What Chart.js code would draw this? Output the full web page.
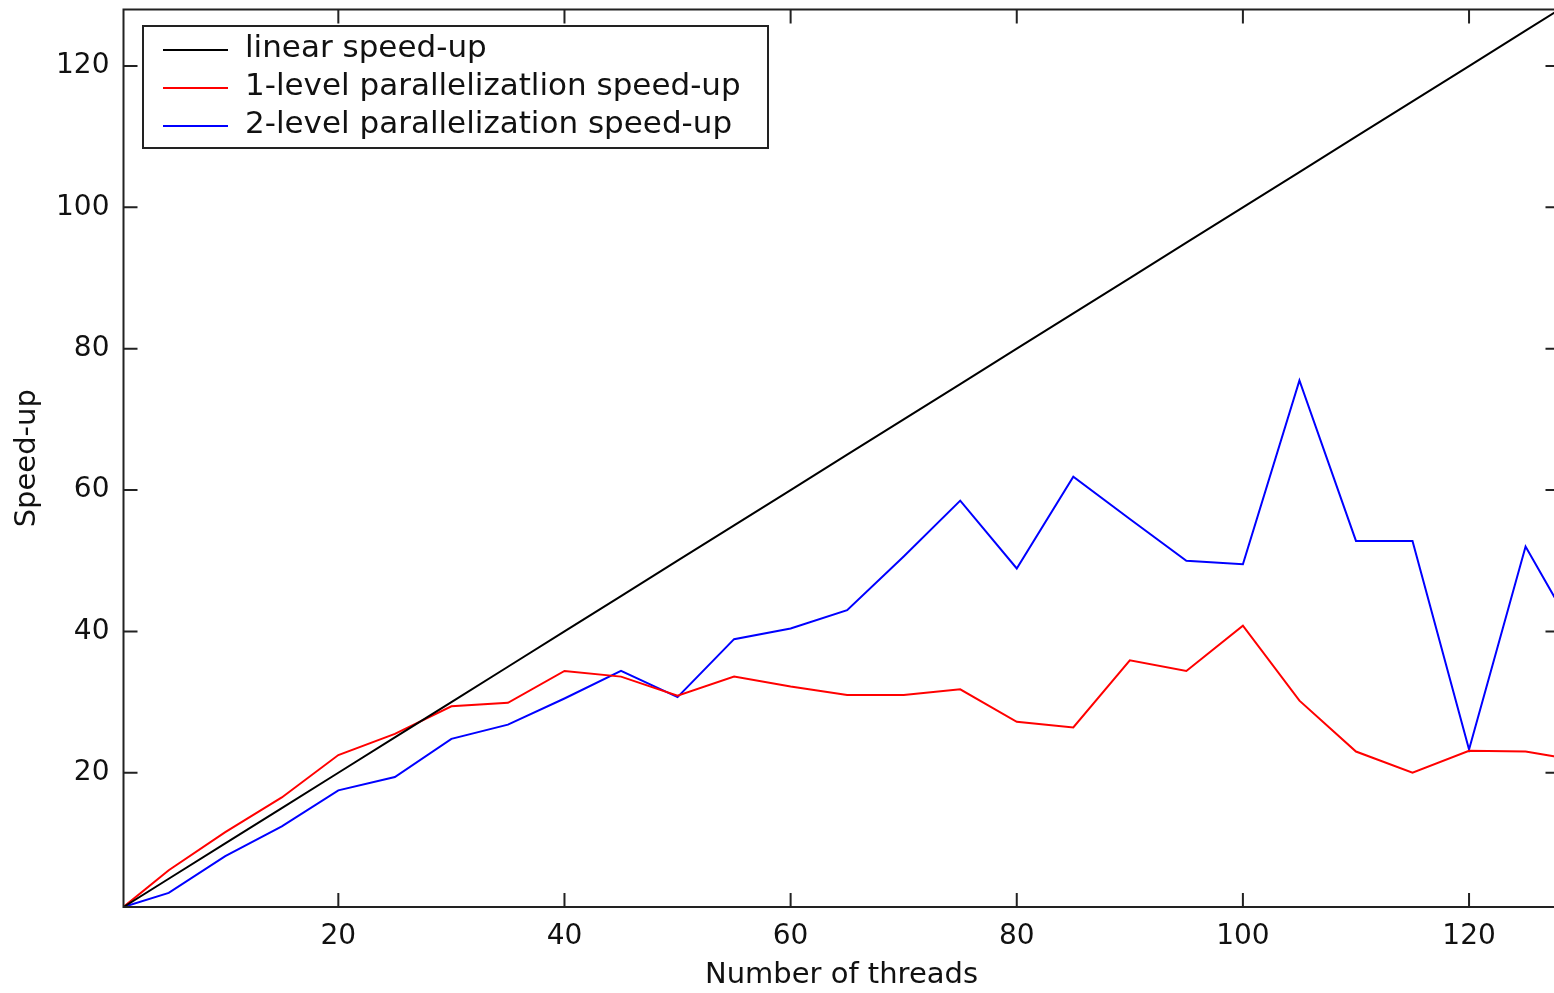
<!DOCTYPE html>
<html lang="en">
<head>
  <meta charset="UTF-8" />
  <title>Speed-up vs number of threads</title>
  <script src="https://cdn.jsdelivr.net/npm/chart.js"></script>
  <style>
    html, body {
      margin: 0;
      padding: 0;
      background: #fff;
      overflow: hidden;
    }
    #chart {
      display: block;
    }
  </style>
</head>
<body>
  <canvas id="chart" width="1572" height="993"></canvas>

  <script>
    const threads = [1, 5, 10, 15, 20, 25, 30, 35, 40, 45, 50, 55, 60, 65, 70, 75, 80, 85, 90, 95, 100, 105, 110, 115, 120, 125, 128];
    const linearSpeedup = [1, 5, 10, 15, 20, 25, 30, 35, 40, 45, 50, 55, 60, 65, 70, 75, 80, 85, 90, 95, 100, 105, 110, 115, 120, 125, 128];
    const oneLevel = [1, 6.2, 11.6, 16.5, 22.5, 25.5, 29.4, 29.9, 34.4, 33.6, 30.9, 33.6, 32.2, 31, 31, 31.8, 27.2, 26.4, 35.9, 34.4, 40.8, 30.2, 23, 20, 23.1, 23, 22.2];
    const twoLevel = [1, 3.0, 8.2, 12.4, 17.5, 19.4, 24.8, 26.8, 30.5, 34.4, 30.7, 38.9, 40.4, 43, 50.6, 58.5, 48.9, 61.9, 55.9, 50, 49.5, 75.5, 52.8, 52.8, 23.3, 52, 43.6];

    const xTicks = [20, 40, 60, 80, 100, 120];
    const yTicks = [20, 40, 60, 80, 100, 120];

    const seriesLabels = ["linear speed-up", "1-level parallelizatlion speed-up", "2-level parallelization speed-up"];
    const seriesColors = ["#000000", "#ff0000", "#0000ff"];

    const fontFamily = "'DejaVu Sans', sans-serif";
    const inkColor = "#111";

    function points(ys) {
      return threads.map((t, i) => ({ x: t, y: ys[i] }));
    }

    // frame round the plot with inward tick marks on all four sides
    const framePlugin = {
      id: "frame",
      afterDatasetsDraw(chart) {
        const { ctx, chartArea: a, scales } = chart;
        const len = 14;
        ctx.save();
        ctx.strokeStyle = "#222";
        ctx.lineWidth = 2;
        ctx.strokeRect(a.left, a.top, a.right - a.left, a.bottom - a.top);
        ctx.beginPath();
        xTicks.forEach(v => {
          const px = scales.x.getPixelForValue(v);
          ctx.moveTo(px, a.bottom);
          ctx.lineTo(px, a.bottom - len);
          ctx.moveTo(px, a.top);
          ctx.lineTo(px, a.top + len);
        });
        yTicks.forEach(v => {
          const py = scales.y.getPixelForValue(v);
          ctx.moveTo(a.left, py);
          ctx.lineTo(a.left + len, py);
          ctx.moveTo(a.right, py);
          ctx.lineTo(a.right - len, py);
        });
        ctx.stroke();
        ctx.restore();
      }
    };

    // boxed legend in the upper left corner of the plot
    const boxLegend = {
      id: "boxLegend",
      afterDraw(chart) {
        const { ctx } = chart;
        const box = { x: 143, y: 26, w: 625, h: 122 };
        ctx.save();
        ctx.fillStyle = "#fff";
        ctx.fillRect(box.x, box.y, box.w, box.h);
        ctx.strokeStyle = "#222";
        ctx.lineWidth = 2;
        ctx.strokeRect(box.x, box.y, box.w, box.h);
        ctx.font = "31px " + fontFamily;
        ctx.textBaseline = "middle";
        ctx.textAlign = "left";
        chart.data.datasets.forEach((ds, i) => {
          const rowY = 50 + i * 38;
          ctx.strokeStyle = ds.borderColor;
          ctx.lineWidth = 2;
          ctx.beginPath();
          ctx.moveTo(163, rowY);
          ctx.lineTo(228, rowY);
          ctx.stroke();
          ctx.fillStyle = inkColor;
          ctx.fillText(ds.label, 245, rowY - 1);
        });
        ctx.restore();
      }
    };

    new Chart(document.getElementById("chart"), {
      type: "line",
      data: {
        datasets: [
          { label: seriesLabels[0], data: points(linearSpeedup), borderColor: seriesColors[0], borderWidth: 2 },
          { label: seriesLabels[1], data: points(oneLevel), borderColor: seriesColors[1], borderWidth: 2 },
          { label: seriesLabels[2], data: points(twoLevel), borderColor: seriesColors[2], borderWidth: 2 },
        ],
      },
      options: {
        responsive: false,
        animation: false,
        devicePixelRatio: 1,
        layout: { padding: { top: 9.5, right: 12.5, left: 0, bottom: 0 } },
        elements: {
          line: { tension: 0 },
          point: { radius: 0, hoverRadius: 0 },
        },
        plugins: {
          legend: { display: false },
          tooltip: { enabled: false },
        },
        scales: {
          x: {
            type: "linear",
            min: 1,
            max: 128,
            grid: { display: false, drawTicks: false },
            border: { display: false },
            afterBuildTicks: s => { s.ticks = xTicks.map(v => ({ value: v })); },
            afterFit: s => {
              s.height = 86;
              s.paddingLeft = 0;
              s.paddingRight = 0;
            },
            ticks: {
              padding: 13,
              color: inkColor,
              font: { family: fontFamily, size: 28 },
            },
            title: {
              display: true,
              text: "Number of threads",
              color: inkColor,
              padding: { top: 0, bottom: 0 },
              font: { family: fontFamily, size: 29 },
            },
          },
          y: {
            type: "linear",
            min: 1,
            max: 128,
            grid: { display: false, drawTicks: false },
            border: { display: false },
            afterBuildTicks: s => { s.ticks = yTicks.map(v => ({ value: v })); },
            afterFit: s => {
              s.width = 123.5;
              s.paddingTop = 0;
              s.paddingBottom = 0;
            },
            ticks: {
              padding: 14,
              color: inkColor,
              font: { family: fontFamily, size: 28 },
            },
            title: {
              display: true,
              text: "Speed-up",
              color: inkColor,
              padding: { top: 10, bottom: 0 },
              font: { family: fontFamily, size: 29 },
            },
          },
        },
      },
      plugins: [framePlugin, boxLegend],
    });
  </script>
</body>
</html>
